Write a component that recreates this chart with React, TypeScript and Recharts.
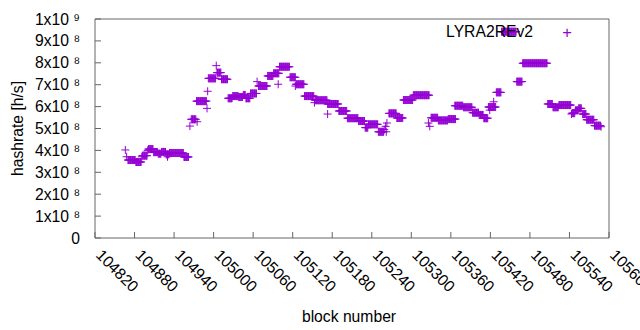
import React from 'react';
import { ScatterChart, Scatter, XAxis, YAxis, Label } from 'recharts';

// Runs of consecutive blocks sharing the same hashrate (values in units of 1e8 h/s)
const runStart = [104870, 104882, 104892, 104901, 104909, 104916, 104921, 104928, 104933, 104955, 104966, 104974, 104992, 105005, 105012, 105022, 105029, 105038, 105045, 105049, 105056, 105068, 105082, 105091, 105100, 105116, 105125, 105138, 105154, 105173, 105190, 105203, 105220, 105230, 105235, 105250, 105266, 105278, 105288, 105303, 105330, 105341, 105356, 105366, 105379, 105393, 105403, 105410, 105417, 105429, 105437, 105460, 105469, 105507, 105515, 105524, 105544, 105549, 105554, 105560, 105566, 105578];
const runEnd = [104881, 104890, 104899, 104908, 104915, 104920, 104927, 104932, 104954, 104962, 104973, 104989, 105003, 105011, 105021, 105028, 105037, 105044, 105048, 105055, 105065, 105081, 105090, 105099, 105115, 105124, 105137, 105152, 105172, 105189, 105202, 105219, 105229, 105234, 105249, 105258, 105277, 105287, 105302, 105327, 105340, 105355, 105367, 105378, 105392, 105402, 105409, 105416, 105428, 105436, 105459, 105468, 105506, 105514, 105523, 105542, 105548, 105553, 105558, 105565, 105577, 105587];
const runValue = [3.56, 3.47, 3.76, 4.06, 3.92, 3.85, 3.93, 3.82, 3.88, 3.7, 5.42, 6.25, 7.29, 7.55, 7.25, 6.38, 6.48, 6.44, 6.53, 6.38, 6.6, 6.94, 7.4, 7.52, 7.82, 7.34, 7.02, 6.48, 6.29, 6.12, 5.8, 5.47, 5.34, 5.04, 5.19, 4.85, 5.69, 5.48, 6.3, 6.52, 5.49, 5.37, 5.43, 6.04, 5.97, 5.72, 5.62, 5.47, 5.98, 6.65, 9.42, 7.14, 7.98, 6.12, 5.97, 6.07, 5.7, 5.83, 5.92, 5.66, 5.4, 5.13];

// Isolated blocks (values in units of 1e8 h/s)
const pointBlock = [104866, 104868, 104891, 104900, 104930, 104964, 104975, 104990, 104991, 105004, 105066, 105098, 105124, 105153, 105173, 105259, 105261, 105262, 105263, 105326, 105328, 105419, 105425, 105543, 105588];
const pointValue = [4.02, 3.71, 3.71, 4.0, 3.71, 5.11, 5.31, 5.92, 6.7, 7.87, 7.14, 7.02, 6.94, 6.18, 5.66, 4.95, 5.1, 4.85, 5.25, 5.25, 5.1, 5.84, 6.22, 5.66, 5.08];

const xTicks = [104820, 104880, 104940, 105000, 105060, 105120, 105180, 105240, 105300, 105360, 105420, 105480, 105540, 105600];
const yTicks = [0, 1e8, 2e8, 3e8, 4e8, 5e8, 6e8, 7e8, 8e8, 9e8, 1e9];
const xDomain = [104820, 105600];
const yDomain = [0, 1e9];
const seriesName = 'LYRA2REv2';
const xTitle = 'block number';
const yTitle = 'hashrate [h/s]';

const COLOR = '#9400D3';
const FONT = '"Liberation Sans", Arial, "DejaVu Sans", sans-serif';
const FS = 15.7;

const SUP = ['⁰', '¹', '²', '³', '⁴', '⁵', '⁶', '⁷', '⁸', '⁹'];

const data: { block: number; hashrate: number }[] = [];
runStart.forEach((s, i) => {
  for (let b = s; b <= runEnd[i]; b++) data.push({ block: b, hashrate: runValue[i] * 1e8 });
});
pointBlock.forEach((b, i) => data.push({ block: b, hashrate: pointValue[i] * 1e8 }));

const formatY = (v: number) => {
  if (v === 0) return '0';
  const exp = Math.floor(Math.log10(v) + 1e-9);
  const mant = Math.round(v / Math.pow(10, exp));
  const supText = String(exp)
    .split('')
    .map((d) => SUP[Number(d)])
    .join('');
  return `${mant}x10 ${supText}`;
};

const blank = () => '';

const Cross = (props: any) => {
  const { cx, cy } = props;
  if (cx == null || cy == null) return <g />;
  const h = 4;
  return (
    <path
      d={`M${cx - h},${cy}H${cx + h}M${cx},${cy - h}V${cy + h}`}
      stroke={COLOR}
      strokeWidth={1}
      fill="none"
    />
  );
};

export default function App() {
  return (
    <div style={{ position: 'absolute', left: 0, top: 0, width: 640, height: 330 }}>
      <ScatterChart width={640} height={330} margin={{ top: 19, right: 31, bottom: 92, left: 95 }}>
        <XAxis
          dataKey="block"
          type="number"
          orientation="bottom"
          mirror
          domain={xDomain}
          ticks={xTicks}
          interval={0}
          angle={45}
          textAnchor="start"
          tick={{ angle: 45, textAnchor: 'start', dy: 26, fontFamily: FONT, fontSize: FS, fill: '#000' }}
        >
          <Label
            value={xTitle}
            position="insideBottom"
            offset={0}
            dx={-3}
            dy={83.5}
            fill="#000"
            fontFamily={FONT}
            fontSize={FS}
          />
          <Label
            value={seriesName}
            position="insideBottomRight"
            offset={0}
            dx={-76}
            dy={-201}
            fill="#000"
            fontFamily={FONT}
            fontSize={FS}
          />
          <Label
            value="+"
            position="insideBottomRight"
            offset={0}
            dx={-42}
            dy={-200.2}
            fill={COLOR}
            fontFamily={FONT}
            fontSize={16.5}
            style={{ textAnchor: 'middle' }}
          />
        </XAxis>
        <XAxis
          xAxisId="top"
          orientation="top"
          mirror
          type="number"
          domain={xDomain}
          ticks={xTicks}
          interval={0}
          tickFormatter={blank}
        />
        <YAxis
          dataKey="hashrate"
          type="number"
          orientation="left"
          mirror
          domain={yDomain}
          ticks={yTicks}
          interval={0}
          tickFormatter={formatY}
          tick={{ textAnchor: 'end', dx: -23, fontFamily: FONT, fontSize: FS, fill: '#000' }}
        >
          <Label
            value={yTitle}
            angle={-90}
            position="insideLeft"
            offset={-78}
            fill="#000"
            fontFamily={FONT}
            fontSize={FS}
            style={{ textAnchor: 'middle' }}
          />
        </YAxis>
        <YAxis
          yAxisId="right"
          orientation="right"
          mirror
          type="number"
          domain={yDomain}
          ticks={yTicks}
          interval={0}
          tickFormatter={blank}
        />
        <Scatter name={seriesName} data={data} fill={COLOR} shape={<Cross />} isAnimationActive={false} />
      </ScatterChart>
    </div>
  );
}
